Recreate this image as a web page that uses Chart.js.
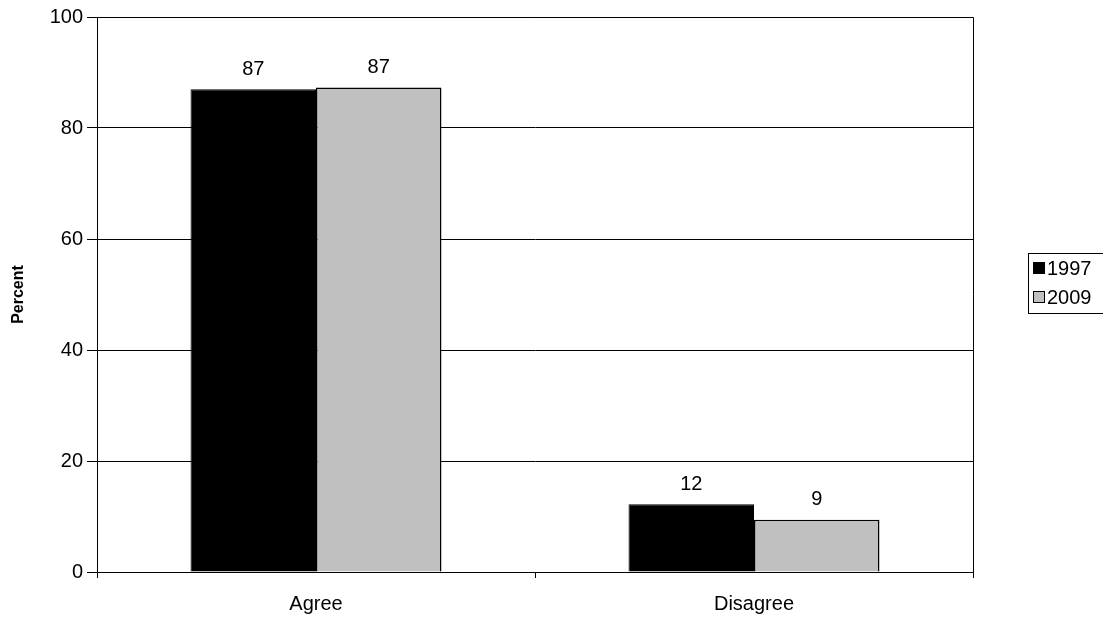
<!DOCTYPE html>
<html>
<head>
<meta charset="utf-8">
<script src="https://cdn.jsdelivr.net/npm/chart.js@4/dist/chart.umd.min.js"></script>
<style>
  html, body { margin: 0; padding: 0; background: #fff; }
  #wrap { width: 1103px; height: 620px; }
</style>
</head>
<body>
<div id="wrap"><canvas id="chart" width="1103" height="620"></canvas></div>
<script>
const categories = ["Agree", "Disagree"];
const seriesNames = ["1997", "2009"];
const values1997 = [87.0, 12.2];
const values2009 = [87.3, 9.4];
const shownLabels1997 = ["87", "12"];
const shownLabels2009 = ["87", "9"];
const yTicks = [0, 20, 40, 60, 80, 100];

const fontFam = "'Liberation Sans', Arial, sans-serif";
const textSize = 20;

// numbers on top of the bars
const barLabels = {
  id: "barLabels",
  afterDatasetsDraw(chart) {
    const ctx = chart.ctx;
    const shown = [shownLabels1997, shownLabels2009];
    ctx.save();
    ctx.font = textSize + "px " + fontFam;
    ctx.fillStyle = "#000";
    ctx.textAlign = "center";
    ctx.textBaseline = "middle";
    chart.data.datasets.forEach((ds, i) => {
      chart.getDatasetMeta(i).data.forEach((bar, j) => {
        ctx.fillText(shown[i][j], bar.x, bar.y - 20);
      });
    });
    ctx.restore();
  }
};

// plot border + legend box on the right
const boxLegend = {
  id: "boxLegend",
  afterDraw(chart) {
    const ctx = chart.ctx;
    const a = chart.chartArea;
    ctx.save();
    ctx.strokeStyle = "#000";
    ctx.lineWidth = 1;
    ctx.beginPath();
    ctx.moveTo(a.left, a.top + 0.5);
    ctx.lineTo(a.right + 0.5, a.top + 0.5);
    ctx.lineTo(a.right + 0.5, a.bottom);
    ctx.stroke();

    ctx.strokeRect(1028.5, 253.5, 80, 60);
    ctx.font = textSize + "px " + fontFam;
    ctx.textBaseline = "middle";
    ctx.textAlign = "left";
    chart.data.datasets.forEach((ds, i) => {
      const y = 268 + i * 29;
      ctx.fillStyle = ds.backgroundColor;
      ctx.fillRect(1033.5, y - 5.5, 11, 11);
      ctx.strokeRect(1033.5, y - 5.5, 11, 11);
      ctx.fillStyle = "#000";
      ctx.fillText(ds.label, 1047, y + 1);
    });
    ctx.restore();
  }
};

new Chart(document.getElementById("chart"), {
  type: "bar",
  data: {
    labels: categories,
    datasets: [
      {
        label: seriesNames[0],
        data: values1997,
        backgroundColor: "#000000",
        borderColor: "#000000",
        borderWidth: 1,
        categoryPercentage: 0.573,
        barPercentage: 1.0,
      },
      {
        label: seriesNames[1],
        data: values2009,
        backgroundColor: "#C0C0C0",
        borderColor: "#000000",
        borderWidth: 1.5,
        categoryPercentage: 0.573,
        barPercentage: 1.0,
      },
    ],
  },
  options: {
    responsive: false,
    animation: false,
    layout: { padding: { top: 17, right: 130, left: 0, bottom: 0 } },
    plugins: {
      legend: { display: false },
      tooltip: { enabled: false },
    },
    scales: {
      x: {
        offset: true,
        grid: {
          offset: true,
          drawOnChartArea: false,
          color: "#000",
          tickLength: 6,
        },
        border: { color: "#000", width: 1 },
        ticks: {
          color: "#000",
          font: { family: fontFam, size: textSize },
          padding: 14,
        },
        afterFit(scale) {
          scale.height = 48;
        },
      },
      y: {
        min: 0,
        max: 100,
        afterBuildTicks(scale) {
          scale.ticks = yTicks.map((v) => ({ value: v }));
        },
        grid: {
          color: "#000",
          tickLength: 10,
          lineWidth: 1,
        },
        border: { color: "#000", width: 1 },
        ticks: {
          color: "#000",
          font: { family: fontFam, size: textSize },
          padding: 4,
        },
        title: {
          display: true,
          text: "Percent",
          color: "#000",
          font: { family: fontFam, size: 16, weight: "bold" },
          padding: { top: 9, bottom: 0 },
        },
        afterFit(scale) {
          scale.width = 97;
        },
      },
    },
  },
  plugins: [barLabels, boxLegend],
});
</script>
</body>
</html>
